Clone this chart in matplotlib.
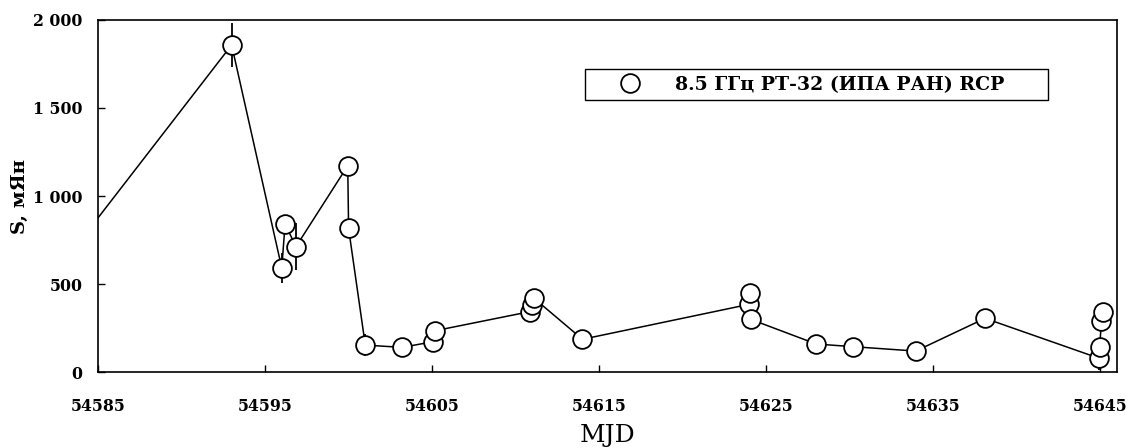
import matplotlib
matplotlib.use("Agg")
import matplotlib.pyplot as plt
from matplotlib.ticker import FuncFormatter

# 8.5 GHz RT-32 light curve (RCP)
mjd = [54583.0, 54593.0, 54596.0, 54596.2, 54596.85, 54599.95, 54600.0,
       54601.0, 54603.2, 54605.05, 54605.2, 54610.85, 54610.95, 54611.1,
       54614.0, 54623.95, 54624.0, 54624.08, 54628.0, 54630.2, 54633.95,
       54638.1, 54644.93, 54644.96, 54645.07, 54645.16]
flux = [630, 1858, 591, 841, 712, 1172, 816,
        153, 140, 172, 235, 343, 381, 419,
        186, 384, 447, 299, 159, 144, 119,
        305, 78, 144, 292, 340]
flux_err = [0, 125, 85, 0, 133, 0, 0,
            62, 0, 0, 0, 0, 0, 0,
            0, 0, 0, 0, 0, 0, 0,
            0, 68, 0, 0, 0]

x_ticks = [54585, 54595, 54605, 54615, 54625, 54635, 54645]
y_ticks = [0, 500, 1000, 1500, 2000]
legend_label = "8.5 ГГц РТ-32 (ИПА РАН) RCP"

serif = ["DejaVu Serif"]

fig = plt.figure(figsize=(11.29, 4.48), dpi=100)
ax = fig.add_axes([0.0868, 0.1696, 0.9026, 0.7858])

ax.plot(mjd, flux, color="black", lw=1.1, zorder=2)
ax.errorbar(mjd, flux, yerr=flux_err, fmt="none", ecolor="black",
            elinewidth=1.3, capsize=0, zorder=2)
ax.plot(mjd, flux, linestyle="none", marker="o", ms=13.5, mfc="white",
        mec="black", mew=1.3, zorder=3, label=legend_label)

ax.set_xlim(54585, 54646)
ax.set_ylim(0, 2000)
ax.set_xticks(x_ticks)
ax.set_yticks(y_ticks)
ax.yaxis.set_major_formatter(FuncFormatter(
    lambda v, p: f"{int(v):,}".replace(",", " ")))
ax.xaxis.set_major_formatter(FuncFormatter(lambda v, p: f"{int(v)}"))

for s in ax.spines.values():
    s.set_linewidth(1.2)

ax.tick_params(axis="x", direction="in", length=5, width=1.0, pad=19)
ax.tick_params(axis="y", direction="in", length=5, width=1.0, pad=11)
for lab in ax.get_xticklabels() + ax.get_yticklabels():
    lab.set_family(serif)
    lab.set_fontweight("bold")
    lab.set_fontsize(11.3)

ax.set_xlabel("MJD", family=serif, fontsize=18, labelpad=6)
ax.set_ylabel("S, мЯн", family=serif, fontsize=14, fontweight="bold",
              labelpad=3)

leg = ax.legend(loc="center", bbox_to_anchor=(0.478, 0.767, 0.454, 0.099),
                mode="expand", borderaxespad=0, frameon=True,
                fancybox=False, edgecolor="black", framealpha=1,
                prop={"family": serif, "weight": "bold", "size": 13.6},
                handlelength=4.1, handletextpad=0.35, borderpad=0.33)
leg.get_frame().set_linewidth(1.0)

fig.savefig("out.png", dpi=100)
